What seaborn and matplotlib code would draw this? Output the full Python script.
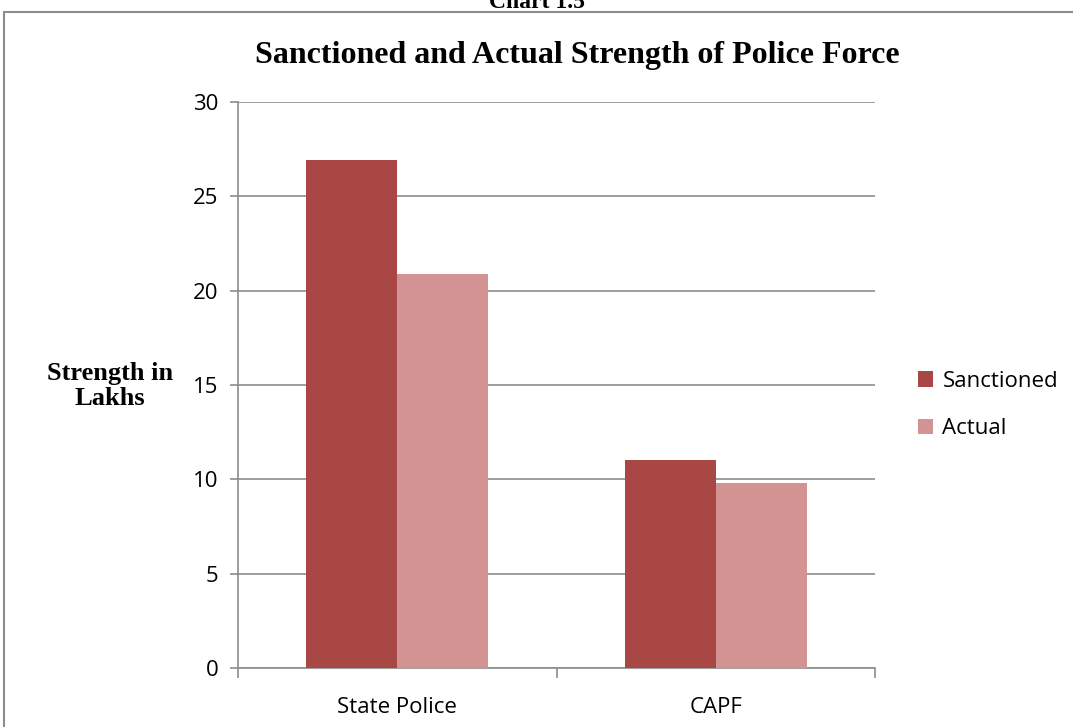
import matplotlib
matplotlib.use("Agg")
import matplotlib.pyplot as plt
from matplotlib.patches import Rectangle
import seaborn as sns
import pandas as pd

categories = ["State Police", "CAPF"]
series_names = ["Sanctioned", "Actual"]
sanctioned = [26.9, 11.0]
actual = [20.9, 9.8]
y_ticks = [0, 5, 10, 15, 20, 25, 30]

df = pd.DataFrame({
    "Force": categories * 2,
    "Series": [series_names[0]] * len(categories) + [series_names[1]] * len(categories),
    "Strength": sanctioned + actual,
})

sns.set_theme(style="white")
plt.rcParams["font.family"] = ["Open Sans", "DejaVu Sans"]
plt.rcParams["text.color"] = "black"
plt.rcParams["xtick.labelcolor"] = "black"
plt.rcParams["ytick.labelcolor"] = "black"

fig = plt.figure(figsize=(10.73, 7.27), dpi=100)
ax = fig.add_axes([238 / 1073, 59 / 727, (875 - 238) / 1073, (668 - 102) / 727])

palette = {"Sanctioned": "#A94745", "Actual": "#D39392"}
sns.barplot(data=df, x="Force", y="Strength", hue="Series", order=categories,
            hue_order=series_names, palette=palette, width=0.572, saturation=1,
            edgecolor="none", ax=ax, zorder=3)

ax.set_xlim(-0.5, 1.5)
ax.set_ylim(0, 30)
ax.set_yticks(y_ticks)
ax.set_yticklabels([str(t) for t in y_ticks], fontsize=16, color="black")
ax.yaxis.grid(True, color="#8c8c8c", linewidth=1.2, zorder=0)
ax.set_axisbelow(True)

# x ticks at category boundaries, labels at category centres
ax.set_xticks([-0.5, 0.5, 1.5])
ax.set_xticklabels([])
ax.set_xticks([0, 1], minor=True)
ax.set_xticklabels(categories, minor=True, fontsize=16, color="black")
ax.tick_params(axis="x", which="major", direction="out", length=7, width=1.2,
               color="#8c8c8c", bottom=True)
ax.tick_params(axis="x", which="minor", length=0, pad=21)
ax.tick_params(axis="y", direction="out", length=6, width=1.2, color="#8c8c8c",
               left=True, pad=8)

for side in ["top", "right"]:
    ax.spines[side].set_visible(False)
for side in ["left", "bottom"]:
    ax.spines[side].set_color("#8c8c8c")
    ax.spines[side].set_linewidth(1.2)

ax.set_xlabel("")
ax.set_ylabel("")

fig.text(110 / 1073, 1 - 386 / 727, "Strength in\nLakhs", ha="center", va="center",
         fontsize=19, fontweight="bold", family=["Liberation Serif"], linespacing=1.15,
         color="black")

fig.text(577 / 1073, 1 - 56 / 727, "Sanctioned and Actual Strength of Police Force",
         ha="center", va="center", fontsize=23, fontweight="bold",
         family=["Liberation Serif"], color="black")

leg = ax.legend(loc="center left", bbox_to_anchor=(918 / 1073, 1 - 405 / 727),
                bbox_transform=fig.transFigure, frameon=False, borderaxespad=0,
                borderpad=0, fontsize=16, handlelength=0.68, handleheight=0.68,
                handletextpad=0.42, labelspacing=1.2)

fig.text(537 / 1073, 1 - 8 / 727, "Chart 1.5", ha="center", va="baseline",
         fontsize=17, fontweight="bold", family=["Liberation Serif"], color="black")

fig.patches.append(Rectangle((4 / 1073, -0.1), 1.1, 0.1 + (727 - 12) / 727,
                             transform=fig.transFigure, fill=False,
                             edgecolor="#8c8c8c", linewidth=1.5))

fig.savefig("out.png", dpi=100)
